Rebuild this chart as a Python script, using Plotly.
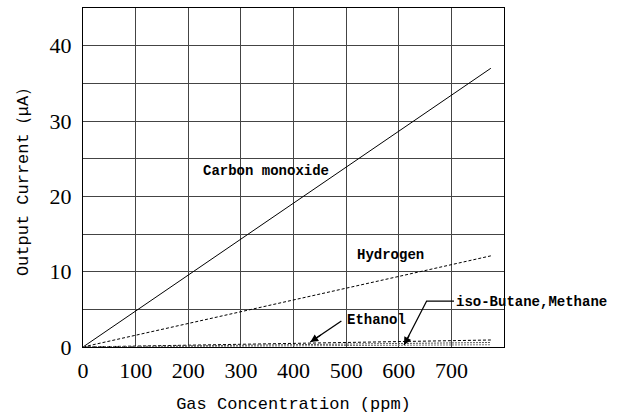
import plotly.graph_objects as go

# Sensor output current vs. gas concentration (linear responses)
conc_ppm = [0, 775]
carbon_monoxide = [0, 37.0]
hydrogen = [0, 12.1]
ethanol = [0, 0.93]
iso_butane = [0, 0.6]
methane = [0, 0.3]

x_ticks = [0, 100, 200, 300, 400, 500, 600, 700]
y_ticks = [0, 10, 20, 30, 40]

num_font = dict(family="Liberation Serif", size=22, color="black")
mono_font = dict(family="Liberation Mono, DejaVu Sans Mono", size=17, color="black")
label_font = dict(family="Liberation Mono, DejaVu Sans Mono", size=14, color="black")

fig = go.Figure()
fig.add_trace(go.Scatter(x=conc_ppm, y=carbon_monoxide, mode="lines",
                         line=dict(color="black", width=1), name="Carbon monoxide"))
fig.add_trace(go.Scatter(x=conc_ppm, y=hydrogen, mode="lines",
                         line=dict(color="black", width=1, dash="3px,2px"), name="Hydrogen"))
fig.add_trace(go.Scatter(x=conc_ppm, y=ethanol, mode="lines",
                         line=dict(color="black", width=1, dash="3px,2px"), name="Ethanol"))
fig.add_trace(go.Scatter(x=conc_ppm, y=iso_butane, mode="lines",
                         line=dict(color="#555", width=1, dash="2px,1px"), name="iso-Butane"))
fig.add_trace(go.Scatter(x=conc_ppm, y=methane, mode="lines",
                         line=dict(color="#777", width=1, dash="2px,1px"), name="Methane"))

# Curve labels
fig.add_annotation(x=347, y=23.4, text="<b>Carbon monoxide</b>", showarrow=False, font=label_font)
fig.add_annotation(x=585, y=12.2, text="<b>Hydrogen</b>", showarrow=False, font=label_font)

leader = dict(color="black", width=1.3)
head = dict(text="", showarrow=True, arrowhead=2, arrowsize=1.2, arrowwidth=1.3,
            arrowcolor="black")

# Ethanol label with pointer
fig.add_annotation(x=497, y=3.6, text="<b>Ethanol</b>", showarrow=False, xanchor="left",
                   font=label_font)
fig.add_trace(go.Scatter(x=[491, 432], y=[3.45, 0.66], mode="lines", line=leader,
                         hoverinfo="skip", cliponaxis=False))
fig.add_annotation(x=432, y=0.66, ax=12, ay=-8, **head)

# iso-Butane / Methane label with bent leader line
fig.add_annotation(x=705, y=6.0, text="<b>iso-Butane,Methane</b>", showarrow=False,
                   xanchor="left", font=label_font)
fig.add_trace(go.Scatter(x=[705, 653, 610], y=[6.1, 6.1, 0.27], mode="lines", line=leader,
                         hoverinfo="skip", cliponaxis=False))
fig.add_annotation(x=610, y=0.27, ax=6, ay=-11, **head)

fig.update_xaxes(range=[0, 800], tickvals=x_ticks, ticks="", showgrid=True,
                 gridcolor="#444", gridwidth=1, zeroline=False,
                 showline=True, linecolor="black", linewidth=1, mirror=True,
                 tickfont=num_font, ticklabelstandoff=4,
                 title=dict(text="Gas Concentration (ppm)", font=mono_font, standoff=14))
fig.update_yaxes(range=[0, 45], tickvals=y_ticks, ticks="", showgrid=True,
                 gridcolor="#444", gridwidth=1, zeroline=False,
                 minor=dict(dtick=5, tick0=0, showgrid=True, gridcolor="#444", gridwidth=1),
                 showline=True, linecolor="black", linewidth=1, mirror=True,
                 tickfont=num_font, ticklabelstandoff=6,
                 title=dict(text="Output Current（μA）", font=mono_font, standoff=16))

fig.update_layout(width=633, height=418, showlegend=False,
                  plot_bgcolor="white", paper_bgcolor="white",
                  margin=dict(l=83, r=129, t=8, b=71))

fig.write_html("out.html")
